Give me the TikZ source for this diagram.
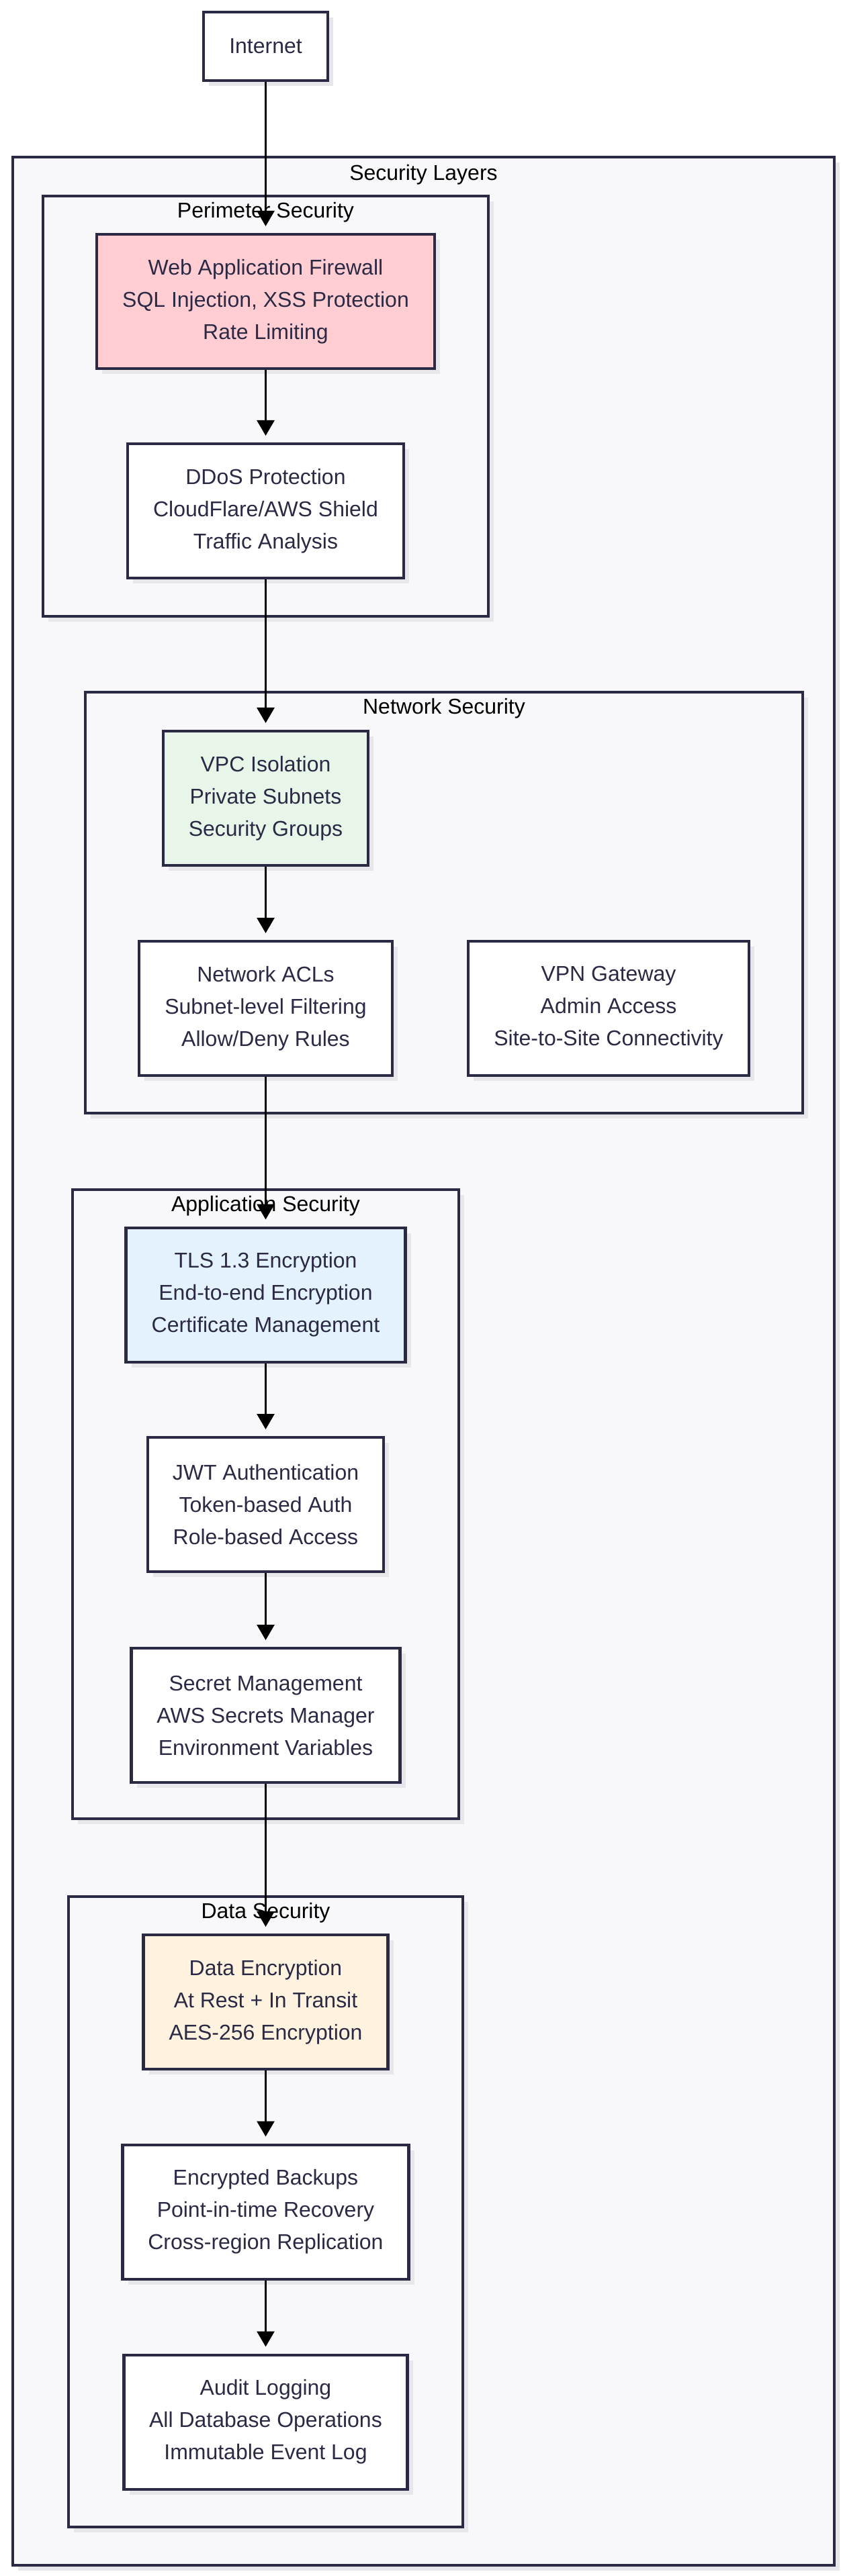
\documentclass[tikz,border=0pt]{standalone}
\usepackage{fontspec}
\setmainfont{Liberation Sans}
\usepackage{xcolor}
\usepackage{tikz}
\usetikzlibrary{arrows.meta, positioning, shadows}
\definecolor{linecol}{HTML}{2B2A45}
\definecolor{groupbg}{HTML}{F8F8FA}
\definecolor{shadowcol}{HTML}{E7E7EB}
\definecolor{wafpink}{HTML}{FFCDD2}
\definecolor{vpcgreen}{HTML}{E8F5E9}
\definecolor{tlsblue}{HTML}{E3F2FD}
\definecolor{dataorange}{HTML}{FFF3E0}
\tikzset{
    font=\fontsize{18.2}{27.3}\selectfont, % all text the same size
    flat shadow/.style={drop shadow={shadow xshift=0.16cm, shadow yshift=-0.16cm, fill=shadowcol, opacity=1}},
    layer/.style={draw=linecol, line width=2.3pt, fill=groupbg, flat shadow}, % the grouping boxes
    layertitle/.style={text=black, inner sep=0pt}, % title on top of a grouping box
    box/.style={draw=linecol, line width=2.3pt, fill=white, text=linecol, align=center,
        minimum height=4cm, inner sep=0pt, flat shadow}, % every component box
}
\tikzstyle{arrow} = [line width=1.7pt, -{Triangle[length=0.46cm, width=0.52cm]}, shorten >=0.2cm]

\begin{document}
\begin{tikzpicture}
    \useasboundingbox (0,0) rectangle (25.04,-76.74);

    % grouping boxes
    \draw[layer] (0.38,-4.68) rectangle (24.84,-76.42);
    \node[layertitle] (tsec) at (12.61,-5.20) {Security Layers};

    \draw[layer] (1.28,-5.84) rectangle (14.54,-18.36);
    \node[layertitle] (tper) at (7.91,-6.32) {Perimeter Security};

    \draw[layer] (2.54,-20.62) rectangle (23.90,-33.16);
    \node[layertitle] (tnet) at (13.22,-21.10) {Network Security};

    \draw[layer] (2.16,-35.44) rectangle (13.66,-54.18);
    \node[layertitle] (tapp) at (7.91,-35.92) {Application Security};

    \draw[layer] (2.04,-56.50) rectangle (13.78,-75.28);
    \node[layertitle] (tdata) at (7.91,-56.98) {Data Security};

    % components
    \node[box, minimum width=3.70cm, minimum height=2.04cm] (internet) at (7.91,-1.38) {Internet};

    \node[box, fill=wafpink, minimum width=10.06cm] (waf) at (7.91,-8.98)
        {Web Application Firewall\\SQL Injection, XSS Protection\\Rate Limiting};
    \node[box, minimum width=8.22cm] (ddos) at (7.91,-15.22)
        {DDoS Protection\\CloudFlare/AWS Shield\\Traffic Analysis};

    \node[box, fill=vpcgreen, minimum width=6.10cm] (vpc) at (7.91,-23.78)
        {VPC Isolation\\Private Subnets\\Security Groups};
    \node[box, minimum width=7.54cm] (acl) at (7.91,-30.04)
        {Network ACLs\\Subnet-level Filtering\\Allow/Deny Rules};
    \node[box, minimum width=8.36cm] (vpn) at (18.12,-30.04)
        {VPN Gateway\\Admin Access\\Site-to-Site Connectivity};

    \node[box, fill=tlsblue, minimum width=8.32cm] (tls) at (7.91,-38.57)
        {TLS 1.3 Encryption\\End-to-end Encryption\\Certificate Management};
    \node[box, minimum width=7.02cm] (jwt) at (7.91,-44.82)
        {JWT Authentication\\Token-based Auth\\Role-based Access};
    \node[box, minimum width=8.00cm] (secrets) at (7.91,-51.10)
        {Secret Management\\AWS Secrets Manager\\Environment Variables};

    \node[box, fill=dataorange, minimum width=7.28cm] (dataenc) at (7.91,-59.64)
        {Data Encryption\\At Rest + In Transit\\AES-256 Encryption};
    \node[box, minimum width=8.52cm] (backups) at (7.91,-65.89)
        {Encrypted Backups\\Point-in-time Recovery\\Cross-region Replication};
    \node[box, minimum width=8.44cm] (audit) at (7.91,-72.15)
        {Audit Logging\\All Database Operations\\Immutable Event Log};

    % flow
    \draw[arrow] (internet) -- (waf);
    \draw[arrow] (waf) -- (ddos);
    \draw[arrow] (ddos) -- (vpc);
    \draw[arrow] (vpc) -- (acl);
    \draw[arrow] (acl) -- (tls);
    \draw[arrow] (tls) -- (jwt);
    \draw[arrow] (jwt) -- (secrets);
    \draw[arrow] (secrets) -- (dataenc);
    \draw[arrow] (dataenc) -- (backups);
    \draw[arrow] (backups) -- (audit);
\end{tikzpicture}
\end{document}
